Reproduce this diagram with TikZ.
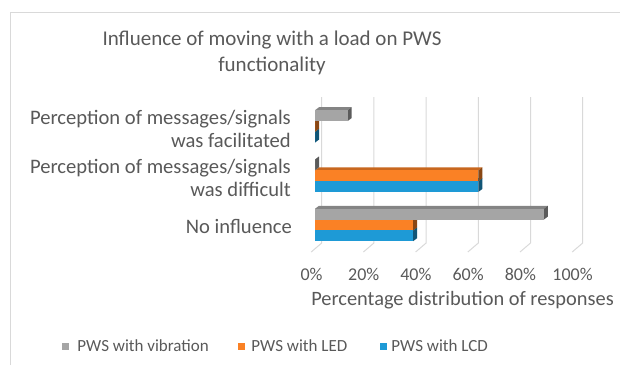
\documentclass[tikz,border=0pt]{standalone}
\usepackage{fontspec}
\setmainfont{Carlito}
\usetikzlibrary{positioning}

\definecolor{txtgray}{HTML}{595959}
\definecolor{gridgray}{HTML}{D9D9D9}
\definecolor{vibgray}{HTML}{A5A5A5}
\definecolor{ledorange}{HTML}{FA8125}
\definecolor{lcdblue}{HTML}{1E9AD6}

\tikzset{
  cattext/.style={text=txtgray, font=\fontsize{20.6}{23}\selectfont, align=right, anchor=base east, inner sep=0pt},
  ticktext/.style={text=txtgray, font=\fontsize{18}{22}\selectfont, anchor=base, inner sep=0pt},
  legsq/.style={minimum size=7pt, inner sep=0pt},
  legtext/.style={text=txtgray, font=\fontsize{17}{20}\selectfont, inner sep=0pt},
}

\begin{document}
\begin{tikzpicture}[x=1pt,y=-1pt]
    \useasboundingbox (0,0) rectangle (620,365);
    \draw[gridgray] (10,365) -- (10,12) -- (620,12);

    % title (base anchor sits on the last line)
    \node[text=txtgray, font=\fontsize{21}{26}\selectfont, align=center, anchor=base, inner sep=0pt] (title) at (272,71)
        {Influence of moving with a load on PWS\\functionality};

    % back wall and floor lines
    \foreach \i in {0,...,5}
        \draw[gridgray, line width=1pt] (321.7+52.2*\i,97) -- (321.7+52.2*\i,243) -- (311.2+52.2*\i,252);

    % bars: value in %, top edge, colour (drawn bottom to top)
    \foreach \v/\t/\c in {37.5/230.4/lcdblue, 37.5/219.6/ledorange, 87.5/208.8/vibgray,
                          62.5/181.1/lcdblue, 62.5/170.3/ledorange, 0/159.5/vibgray,
                          0/131.8/lcdblue, 0/121/ledorange, 12.5/110.2/vibgray}{
        \pgfmathsetmacro\e{315+2.615*\v}
        \fill[\c!80!black] (315,\t) -- (319,\t-3) -- (\e+4,\t-3) -- (\e,\t) -- cycle;
        \fill[\c!55!black] (\e,\t) -- (\e+4,\t-3) -- (\e+4,\t+7.8) -- (\e,\t+10.8) -- cycle;
        \fill[\c] (315,\t) rectangle (\e,\t+10.8);
    }

    % categories
    \node[cattext] (facil) at (291,147) {Perception of messages/signals\\was facilitated};
    \node[cattext] (diffic) at (291,196) {Perception of messages/signals\\was difficult};
    \node[cattext] (noinfl) at (292,233) {No influence};

    % axis
    \foreach \i/\p in {0/0,1/20,2/40,3/60,4/80,5/100}
        \node[ticktext] (tick\i) at (311.5+52.2*\i,280) {\p\%};
    \node[ticktext, font=\fontsize{20.4}{22}\selectfont] (xtitle) at (462.5,305) {Percentage distribution of responses};

    % legend
    \node[legsq, fill=vibgray] (sqvib) at (65.5,346) {};
    \node[legtext, right=8pt of sqvib] (legvib) {PWS with vibration};
    \node[legsq, fill=ledorange] (sqled) at (241.5,346) {};
    \node[legtext, right=6pt of sqled] (legled) {PWS with LED};
    \node[legsq, fill=lcdblue] (sqlcd) at (383.5,346) {};
    \node[legtext, right=4pt of sqlcd] (leglcd) {PWS with LCD};
\end{tikzpicture}
\end{document}
